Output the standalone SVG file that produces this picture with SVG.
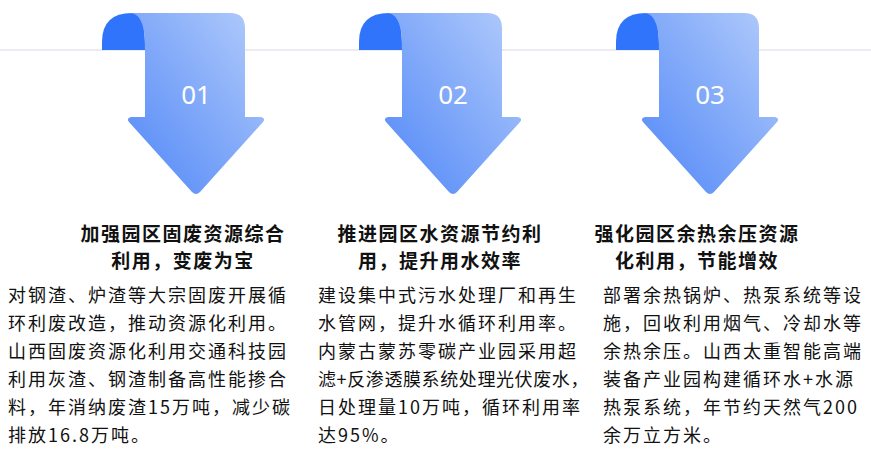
<svg xmlns="http://www.w3.org/2000/svg" width="871" height="465" viewBox="0 0 871 465">
<defs>
<linearGradient id="g" x1="0" y1="1" x2="1" y2="0">
<stop offset="0" stop-color="#4f86f7"/><stop offset="1" stop-color="#b3ccfb"/>
</linearGradient>
<g id="arrow">
<path d="M102,50 L102,42 Q102,13 132,13 L140,13 Q145,22 145,50 Z" fill="#2f74fb"/>
<path d="M130,13 L230,13 Q245,13 245,28 L245,117 L261,117 Q266,118 263,122 L200,192 Q196,196 192,192 L129,122 Q126,118 131,117 L145,117 L145,40 Q143,13 130,13 Z" fill="url(#g)"/>
</g>
</defs>
<style>
.n{font-family:"Noto Sans",sans-serif;font-size:26px;fill:#fff;text-anchor:middle}
.h{font-family:"Noto Sans CJK SC",sans-serif;font-size:19px;font-weight:bold;fill:#111;text-anchor:middle;letter-spacing:1.5px}
.b{font-family:"Noto Sans CJK SC",sans-serif;font-size:18px;fill:#111;letter-spacing:2px}
</style>
<rect width="871" height="465" fill="#fff"/>
<line x1="0" y1="50" x2="871" y2="50" stroke="#e4e6ec" stroke-width="1.5"/>
<g id="node1"><use href="#arrow"/><text class="n" x="196" y="104">01</text></g>
<g id="node2"><use href="#arrow" x="257"/><text class="n" x="453" y="104">02</text></g>
<g id="node3"><use href="#arrow" x="514"/><text class="n" x="710" y="104">03</text></g>
<g id="text1">
<text class="h" x="183" y="241">加强园区固废资源综合</text>
<text class="h" x="183" y="268">利用，变废为宝</text>
<text class="b" x="8" y="302">对钢渣、炉渣等大宗固废开展循</text>
<text class="b" x="8" y="330">环利废改造，推动资源化利用。</text>
<text class="b" x="8" y="358">山西固废资源化利用交通科技园</text>
<text class="b" x="8" y="386">利用灰渣、钢渣制备高性能掺合</text>
<text class="b" x="8" y="414">料，年消纳废渣15万吨，减少碳</text>
<text class="b" x="8" y="442">排放16.8万吨。</text>
</g>
<g id="text2">
<text class="h" x="440" y="241">推进园区水资源节约利</text>
<text class="h" x="440" y="268">用，提升用水效率</text>
<text class="b" x="318" y="302">建设集中式污水处理厂和再生</text>
<text class="b" x="318" y="330">水管网，提升水循环利用率。</text>
<text class="b" x="318" y="358">内蒙古蒙苏零碳产业园采用超</text>
<text class="b" x="318" y="386" style="letter-spacing:0.6px">滤+反渗透膜系统处理光伏废水，</text>
<text class="b" x="318" y="414">日处理量10万吨，循环利用率</text>
<text class="b" x="318" y="442">达95%。</text>
</g>
<g id="text3">
<text class="h" x="697" y="241">强化园区余热余压资源</text>
<text class="h" x="697" y="268">化利用，节能增效</text>
<text class="b" x="603" y="302">部署余热锅炉、热泵系统等设</text>
<text class="b" x="603" y="330">施，回收利用烟气、冷却水等</text>
<text class="b" x="603" y="358">余热余压。山西太重智能高端</text>
<text class="b" x="603" y="386">装备产业园构建循环水+水源</text>
<text class="b" x="603" y="414">热泵系统，年节约天然气200</text>
<text class="b" x="603" y="442">余万立方米。</text>
</g>
</svg>
